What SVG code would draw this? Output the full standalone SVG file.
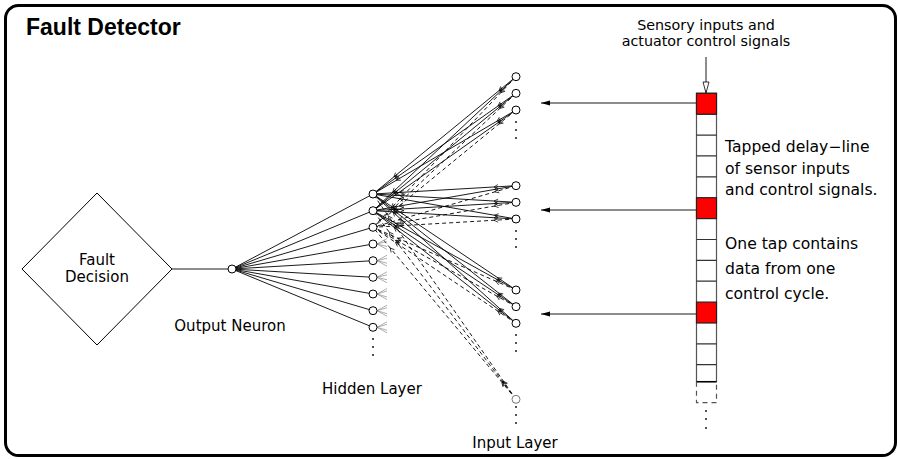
<svg xmlns="http://www.w3.org/2000/svg" width="900" height="459" viewBox="0 0 900 459">
<style>
.t{font-family:"DejaVu Sans","Liberation Sans",sans-serif;font-size:15px;fill:#000}
.s{font-size:14.3px}
.r{font-size:15.6px}
.ttl{font-family:"Liberation Sans",Arial,sans-serif;font-size:23px;font-weight:bold;fill:#000}
.ln{stroke:#000;stroke-width:0.9;fill:none}
.ds{stroke-dasharray:4,3}
.ch{marker-start:url(#cs);marker-end:url(#ce)}
.nd{fill:#fff;stroke:#000;stroke-width:1}
.gn{fill:#fff;stroke:#777;stroke-width:1}
.fan{stroke:#999;stroke-width:0.8;fill:none}
.dot{fill:#000}
.cell{fill:#fff;stroke:#555;stroke-width:1.2}
.red{fill:#f00;stroke:#222;stroke-width:1.2}
</style>
<defs>
<marker id="ce" markerUnits="userSpaceOnUse" orient="auto" overflow="visible" markerWidth="1" markerHeight="1" refX="0" refY="0"><path d="M-31,-2.2 L-27,0 L-31,2.2" fill="none" stroke="#000" stroke-width="0.7"/></marker>
<marker id="cs" markerUnits="userSpaceOnUse" orient="auto" overflow="visible" markerWidth="1" markerHeight="1" refX="0" refY="0"><path d="M18,-2.2 L22,0 L18,2.2" fill="none" stroke="#000" stroke-width="0.7"/></marker>
<marker id="al" markerUnits="userSpaceOnUse" orient="auto" overflow="visible" markerWidth="1" markerHeight="1" refX="0" refY="0"><path d="M0,0 L-9,-2.5 L-9,2.5 Z" fill="#000"/></marker>
<marker id="ah" markerUnits="userSpaceOnUse" orient="auto" overflow="visible" markerWidth="1" markerHeight="1" refX="0" refY="0"><path d="M0,0 L-11,-3 L-11,3 Z" fill="#fff" stroke="#000" stroke-width="0.8"/></marker>
</defs>
<rect x="0" y="0" width="900" height="459" fill="#fff"/>
<rect x="5.5" y="5.5" width="890" height="450" rx="13" fill="none" stroke="#000" stroke-width="3"/>
<text class="ttl" x="26" y="35">Fault Detector</text>

<g id="connectors">
<path class="ln" d="M172,269 L232,269"/>
<g class="ln">
<path d="M232,269 L373,194"/><path d="M232,269 L373,210.7"/><path d="M232,269 L373,227.3"/>
<path d="M232,269 L373,244"/><path d="M232,269 L373,260.7"/><path d="M232,269 L373,277.3"/>
<path d="M232,269 L373,294"/><path d="M232,269 L373,310.7"/><path d="M232,269 L373,327.3"/>
</g>
<g class="ln ch">
<path d="M516,76.7 L373,194"/><path d="M516,93.3 L373,194"/><path d="M516,110 L373,194"/>
<path d="M516,185.7 L373,194"/><path d="M516,202.3 L373,194"/><path d="M516,219 L373,194"/>
<path d="M516,290 L373,194"/><path d="M516,306.7 L373,194"/><path d="M516,323.3 L373,194"/>
<path d="M516,76.7 L373,210.7"/><path d="M516,93.3 L373,210.7"/><path d="M516,110 L373,210.7"/>
<path d="M516,185.7 L373,210.7"/><path d="M516,202.3 L373,210.7"/><path d="M516,219 L373,210.7"/>
<path d="M516,290 L373,210.7"/><path d="M516,306.7 L373,210.7"/><path d="M516,323.3 L373,210.7"/>
</g>
<g class="ln ds ch">
<path d="M516,76.7 L373,227.3"/><path d="M516,93.3 L373,227.3"/><path d="M516,110 L373,227.3"/>
<path d="M516,185.7 L373,227.3"/><path d="M516,202.3 L373,227.3"/><path d="M516,219 L373,227.3"/>
<path d="M516,290 L373,227.3"/><path d="M516,306.7 L373,227.3"/><path d="M516,323.3 L373,227.3"/>
<path d="M516,399.3 L373,194"/><path d="M516,399.3 L373,210.7"/><path d="M516,399.3 L373,227.3"/>
</g>
<g class="fan">
<path d="M387,238.5 L377,244 L387,241.5 M387,249.5 L377,244 L387,246.5"/>
<path d="M387,255.2 L377,260.7 L387,258.2 M387,266.2 L377,260.7 L387,263.2"/>
<path d="M387,271.8 L377,277.3 L387,274.8 M387,282.8 L377,277.3 L387,279.8"/>
<path d="M387,288.5 L377,294 L387,291 M387,299.5 L377,294 L387,297"/>
<path d="M387,305.2 L377,310.7 L387,307.7 M387,316.2 L377,310.7 L387,313.7"/>
<path d="M387,321.8 L377,327.3 L387,324.3 M387,332.8 L377,327.3 L387,330.3"/>
</g>
<g class="ln">
<path d="M696,103 L541,103" marker-end="url(#al)"/>
<path d="M696,210 L541,210" marker-end="url(#al)"/>
<path d="M696,314 L541,314" marker-end="url(#al)"/>
<path d="M706,57 L706,93" marker-end="url(#ah)"/>
</g>
</g>

<g id="fault-decision">
<path d="M22,269 L97,193 L172,269 L97,345 Z" fill="#fff" stroke="#000" stroke-width="1"/>
<text class="t" x="97" y="265" text-anchor="middle">Fault</text>
<text class="t" x="97" y="281.5" text-anchor="middle">Decision</text>
</g>

<g id="output-neuron">
<circle class="nd" cx="232" cy="269" r="4"/>
<text class="t" x="230" y="331" text-anchor="middle">Output Neuron</text>
</g>

<g id="hidden-layer">
<circle class="nd" cx="373" cy="194" r="4"/>
<circle class="nd" cx="373" cy="210.7" r="4"/>
<circle class="nd" cx="373" cy="227.3" r="4"/>
<circle class="nd" cx="373" cy="244" r="4"/>
<circle class="nd" cx="373" cy="260.7" r="4"/>
<circle class="nd" cx="373" cy="277.3" r="4"/>
<circle class="nd" cx="373" cy="294" r="4"/>
<circle class="nd" cx="373" cy="310.7" r="4"/>
<circle class="nd" cx="373" cy="327.3" r="4"/>
<circle class="dot" cx="373" cy="339" r="0.9"/>
<circle class="dot" cx="373" cy="347" r="0.9"/>
<circle class="dot" cx="373" cy="355" r="0.9"/>
<text class="t" x="372" y="394" text-anchor="middle">Hidden Layer</text>
</g>

<g id="input-layer">
<circle class="nd" cx="516" cy="76.7" r="4"/>
<circle class="nd" cx="516" cy="93.3" r="4"/>
<circle class="nd" cx="516" cy="110" r="4"/>
<circle class="dot" cx="516" cy="122" r="0.9"/>
<circle class="dot" cx="516" cy="130" r="0.9"/>
<circle class="dot" cx="516" cy="138" r="0.9"/>
<circle class="nd" cx="516" cy="185.7" r="4"/>
<circle class="nd" cx="516" cy="202.3" r="4"/>
<circle class="nd" cx="516" cy="219" r="4"/>
<circle class="dot" cx="516" cy="231" r="0.9"/>
<circle class="dot" cx="516" cy="239" r="0.9"/>
<circle class="dot" cx="516" cy="247" r="0.9"/>
<circle class="nd" cx="516" cy="290" r="4"/>
<circle class="nd" cx="516" cy="306.7" r="4"/>
<circle class="nd" cx="516" cy="323.3" r="4"/>
<circle class="dot" cx="516" cy="335" r="0.9"/>
<circle class="dot" cx="516" cy="343" r="0.9"/>
<circle class="dot" cx="516" cy="351" r="0.9"/>
<circle class="gn" cx="516" cy="399.3" r="4"/>
<circle class="dot" cx="516" cy="407" r="0.9"/>
<circle class="dot" cx="516" cy="415" r="0.9"/>
<circle class="dot" cx="516" cy="423" r="0.9"/>
<text class="t" x="515" y="448" text-anchor="middle">Input Layer</text>
</g>

<g id="delay-line">
<rect class="cell" x="696.5" y="93.3" width="20" height="288.4"/>
<path d="M696.5,114.2 H716.5 M696.5,135.1 H716.5 M696.5,155.9 H716.5 M696.5,176.8 H716.5 M696.5,239.5 H716.5 M696.5,260.3 H716.5 M696.5,281.2 H716.5 M696.5,343.9 H716.5 M696.5,364.7 H716.5" stroke="#333" stroke-width="1.2"/>
<path d="M696.5,381.7 H716.5" stroke="#000" stroke-width="1.5"/>
<rect class="red" x="696.5" y="93.3" width="20" height="20.9"/>
<rect class="red" x="696.5" y="197.7" width="20" height="20.9"/>
<rect class="red" x="696.5" y="302.1" width="20" height="20.9"/>
<path d="M696.5,381.7 V402.7 H716.5 V381.7" fill="none" stroke="#555" stroke-width="1.2" stroke-dasharray="5,4"/>
<circle class="dot" cx="706" cy="411" r="0.9"/>
<circle class="dot" cx="706" cy="419" r="0.9"/>
<circle class="dot" cx="706" cy="428" r="0.9"/>
<text class="t s" x="706" y="30" text-anchor="middle">Sensory inputs and</text>
<text class="t s" x="706" y="46" text-anchor="middle">actuator control signals</text>
<text class="t r" x="725" y="152">Tapped delay−line</text>
<text class="t r" x="725" y="173.5">of sensor inputs</text>
<text class="t r" x="725" y="195">and control signals.</text>
<text class="t r" x="725" y="248.5">One tap contains</text>
<text class="t r" x="725" y="273.5">data from one</text>
<text class="t r" x="725" y="298.5">control cycle.</text>
</g>
</svg>
